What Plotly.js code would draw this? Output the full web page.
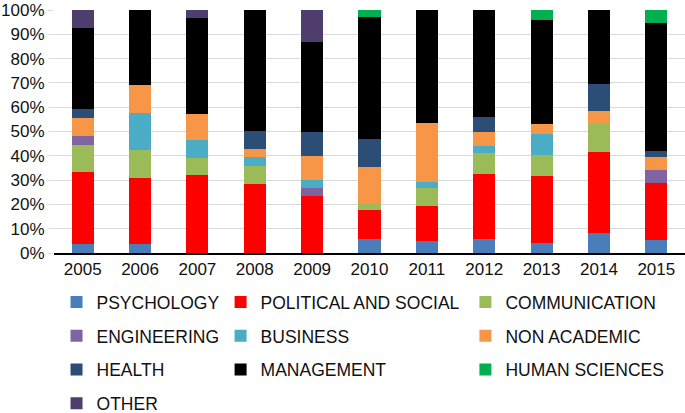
<!DOCTYPE html>
<html>
<head>
<meta charset="utf-8">
<script src="https://cdn.plot.ly/plotly-3.0.1.min.js"></script>
<style>html,body{margin:0;padding:0;background:#fff;}#chart{width:685px;height:413px;}</style>
</head>
<body>
<div id="chart"></div>
<script>
var years = ['2005','2006','2007','2008','2009','2010','2011','2012','2013','2014','2015'];
var psychology    = [3.7, 3.8, 0, 0, 0, 5.9, 4.9, 5.9, 4.1, 8.4, 5.3];
var political     = [29.6, 27.0, 32.2, 28.6, 23.3, 11.8, 14.6, 26.5, 27.7, 33.2, 23.7];
var communication = [11.2, 11.5, 7.0, 7.2, 0, 2.9, 7.3, 8.8, 8.6, 11.3, 0];
var engineering   = [3.7, 0, 0, 0, 3.3, 0, 0, 0, 0, 0, 5.2];
var business      = [0, 15.4, 7.2, 3.6, 3.3, 0, 2.4, 2.9, 8.6, 0, 0];
var nonAcademic   = [7.3, 11.5, 10.7, 3.6, 10.0, 14.7, 24.4, 5.9, 4.2, 5.5, 5.3];
var health        = [3.8, 0, 0, 7.1, 10.0, 11.8, 0, 5.9, 0, 11.1, 2.6];
var management    = [33.2, 30.8, 39.5, 50.0, 36.7, 50.0, 46.3, 44.1, 42.7, 30.5, 52.7];
var humanSciences = [0, 0, 0, 0, 0, 2.9, 0, 0, 4.1, 0, 5.2];
var other         = [7.5, 0, 3.4, 0, 13.3, 0, 0, 0, 0, 0, 0];

var series = [
  {name:'PSYCHOLOGY', y:psychology, color:'#4a7ebb', legend:'legend'},
  {name:'POLITICAL AND SOCIAL', y:political, color:'#ff0000', legend:'legend2'},
  {name:'COMMUNICATION', y:communication, color:'#9bbb59', legend:'legend3'},
  {name:'ENGINEERING', y:engineering, color:'#8064a2', legend:'legend'},
  {name:'BUSINESS', y:business, color:'#4bacc6', legend:'legend2'},
  {name:'NON ACADEMIC', y:nonAcademic, color:'#f79646', legend:'legend3'},
  {name:'HEALTH', y:health, color:'#2c4d75', legend:'legend'},
  {name:'MANAGEMENT', y:management, color:'#000000', legend:'legend2'},
  {name:'HUMAN SCIENCES', y:humanSciences, color:'#00b050', legend:'legend3'},
  {name:'OTHER', y:other, color:'#4e3d6d', legend:'legend'}
];

var traces = series.map(function(s){
  return {
    type:'bar', x:years, y:s.y, name:s.name, legend:s.legend, legendgroup:s.name,
    marker:{color:s.color, line:{width:0}}, hoverinfo:'name+y'
  };
});

var FONT = '"Liberation Sans", Arial, Helvetica, sans-serif';
function leg(x){
  return {x:x, xanchor:'left', y:0.312, yref:'container', yanchor:'top', orientation:'v',
    traceorder:'grouped', tracegroupgap:8, bgcolor:'rgba(0,0,0,0)',
    font:{family:FONT, size:17.5, color:'#111'}};
}

var layout = {
  width:685, height:413,
  margin:{l:54, r:0, t:10, b:160},
  barmode:'stack', barnorm:'percent', bargap:0.615,
  paper_bgcolor:'#fff', plot_bgcolor:'#fff',
  font:{family:FONT, size:17, color:'#111'},
  xaxis:{type:'category', showline:true, linecolor:'#000', linewidth:1.5, ticks:'', showgrid:false,
    tickfont:{family:FONT, size:17, color:'#111'}},
  yaxis:{range:[0,100], dtick:10, ticksuffix:'%', showgrid:true, gridcolor:'#d9d9d9', gridwidth:1,
    zeroline:false, showline:false, ticks:'outside', ticklen:5, tickcolor:'#d9d9d9',
    tickfont:{family:FONT, size:17, color:'#111'}},
  legend:leg(0.004),
  legend2:leg(0.264),
  legend3:leg(0.652),
  showlegend:true
};

Plotly.newPlot('chart', traces, layout, {displayModeBar:false, staticPlot:true});
</script>
</body>
</html>
